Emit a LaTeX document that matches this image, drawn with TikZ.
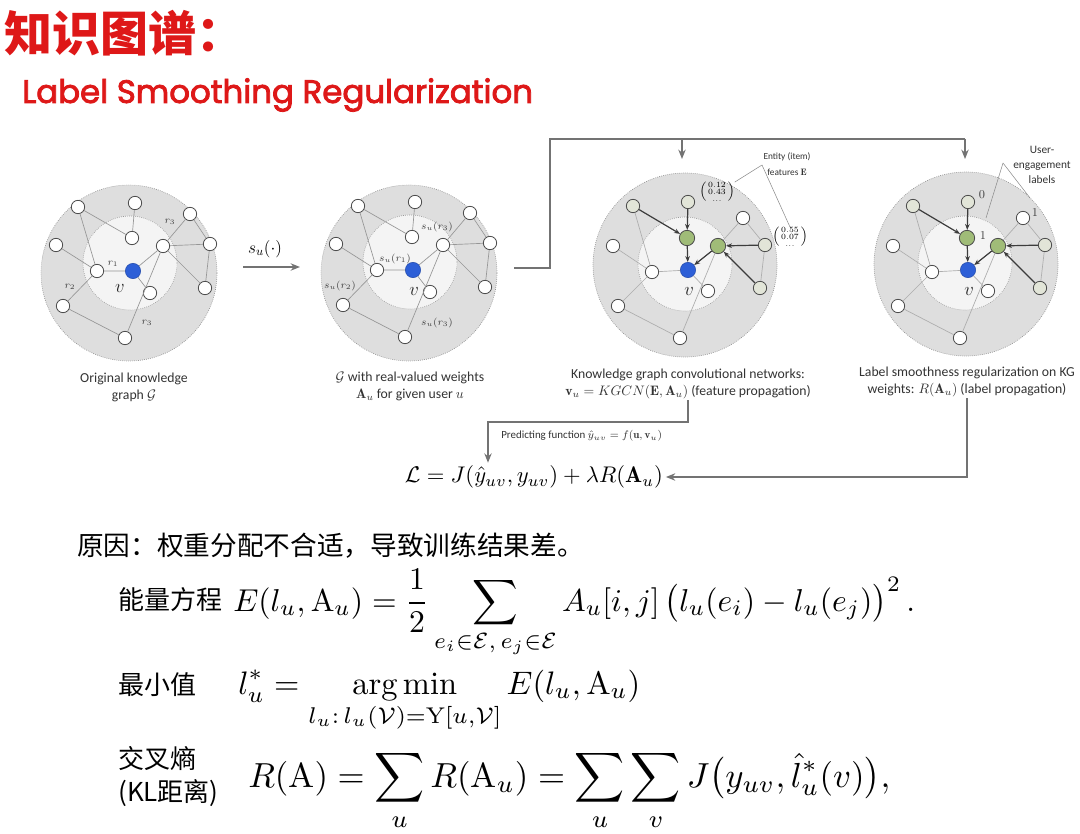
\RequirePackage{fix-cm}
\documentclass[tikz,border=0pt]{standalone}
\usepackage{amsmath,amssymb}
\usepackage{graphicx}
\usepackage{fontspec}
\newfontfamily\cjk{Noto Sans CJK SC}
\newfontfamily\capfont{Carlito}
\newfontfamily\headfont{Poppins}
\newcommand\heavytext[1]{\special{pdf:literal direct 2 Tr 0.25 w}#1\special{pdf:literal direct 0 Tr}}
\usetikzlibrary{arrows.meta}
\definecolor{titred}{RGB}{222,24,24}
\definecolor{outerg}{RGB}{222,222,222}
\definecolor{innerg}{RGB}{244,244,244}
\definecolor{edgeg}{RGB}{150,150,150}
\definecolor{darke}{RGB}{60,60,60}
\definecolor{vblue}{RGB}{45,95,215}
\definecolor{gnode}{RGB}{160,188,120}
\definecolor{lgnode}{RGB}{226,229,216}
\definecolor{conng}{RGB}{115,115,115}
\newcommand\kgplain{%
 \node[wn] (n1) at (-55,-64) {};
 \node[wn] (n2) at (2,-68) {};
 \node[wn] (n3) at (57,-57) {};
 \node[wn] (n4) at (-77,-26) {};
 \node[wn] (n5) at (-1,-33) {};
 \node[wn] (n6) at (30,-25) {};
 \node[wn] (n7) at (77,-27) {};
 \node[wn] (n8) at (-36,0) {};
 \node[bn] (v) at (0,0) {};
 \node[wn] (n9) at (17,22) {};
 \node[wn] (n10) at (72,17) {};
 \node[wn] (n11) at (-70,35) {};
 \node[wn] (n12) at (-8,67) {};
 \draw[ed] (n1)--(n5) (n1)--(n8) (n2)--(n5) (n3)--(n6) (n3)--(n7) (n6)--(n7)
   (n7)--(n10) (n6)--(n10) (n4)--(n8) (n8)--(v) (v)--(n6) (v)--(n9)
   (n6)--(n12) (n8)--(n11) (n11)--(n12);
}
\newcommand\kggcn{%
 \node[lgn] (n1) at (-55,-64) {};
 \node[lgn] (n2) at (0,-68) {};
 \node[wn] (n3) at (55,-52) {};
 \node[wn] (n4) at (-75,-24) {};
 \node[gn] (n5) at (-1,-32) {};
 \node[gn] (n6) at (30,-24) {};
 \node[lgn] (n7) at (77,-25) {};
 \node[wn] (n8) at (-36,2) {};
 \node[bn] (v) at (0,0) {};
 \node[wn] (n9) at (20,21) {};
 \node[lgn] (n10) at (72,18) {};
 \node[wn] (n11) at (-70,36) {};
 \node[wn] (n12) at (-8,68) {};
 \draw[led] (n1)--(n8) (n3)--(n6) (n3)--(n7) (n7)--(n10) (n4)--(n8) (n8)--(v)
   (v)--(n9) (n6)--(n12) (n8)--(n11) (n11)--(n12);
 \draw[dar] (n1)--(n5);
 \draw[dar] (n2)--(n5);
 \draw[dar] (n5)--(v);
 \draw[dar] (n6)--(v);
 \draw[dar] (n7)--(n6);
 \draw[dar] (n10)--(n6);
}
\begin{document}
\begin{tikzpicture}[x=0.75pt,y=-0.75pt,
 outerc/.style={circle, fill=outerg, draw=black!45, densely dotted, line width=0.5pt, inner sep=0},
 innerc/.style={circle, fill=innerg, draw=black!40, densely dotted, line width=0.5pt, inner sep=0},
 wn/.style={circle, draw=black!70, fill=white, line width=0.6pt, minimum size=10pt, inner sep=0},
 lgn/.style={wn, fill=lgnode},
 gn/.style={circle, draw=black!70, fill=gnode, line width=0.6pt, minimum size=11.5pt, inner sep=0},
 bn/.style={circle, draw=vblue!80!black, fill=vblue, line width=0.4pt, minimum size=11.5pt, inner sep=0},
 ed/.style={draw=edgeg, line width=0.5pt},
 led/.style={draw=black!32, line width=0.5pt},
 dar/.style={draw=darke, line width=0.9pt, -{Stealth[length=4.5pt,width=3.5pt]}},
 conn/.style={draw=conng, line width=1.3pt},
 arr/.style={-{Stealth[length=7pt,width=5.5pt]}},
 captxt/.style={font=\capfont\fontsize{10.3}{12.75}\selectfont, align=center, text=black!80, inner sep=1pt},
 elab/.style={font=\fontsize{7.5}{9}\selectfont, inner sep=0, text=black!75},
 vlab/.style={font=\fontsize{14}{16}\selectfont, inner sep=0, text=black!85},
 anno/.style={font=\capfont\fontsize{7}{12.5}\selectfont, align=center, inner sep=0, text=black!80},
 lead/.style={draw=black!45, line width=0.4pt},
 cjkl/.style={anchor=west, inner sep=0, font=\cjk\fontsize{19.5}{24.75}\selectfont, align=left}
]
\useasboundingbox (0,0) rectangle (1080,834);
\fill[white] (0,0) rectangle (1080,834);

% titles
\node[anchor=west, inner sep=0, text=titred, font=\cjk\bfseries\fontsize{36}{40}\selectfont] (title) at (4,33) {知识图谱：};
\node[anchor=west, inner sep=0, text=titred] (subtitle) at (22,95) {\resizebox{383pt}{!}{\headfont\heavytext{Label Smoothing Regularization}}};

% graph 1
\begin{scope}[shift={(133,271)}, name prefix=g1-]
 \node[outerc, minimum size=132pt] (oc) at (-4,2) {};
 \node[innerc, minimum size=70.5pt] (ic) at (-3,-8) {};
 \kgplain
 \node[elab] (la) at (37,-49) {$r_3$};
 \node[elab] (lb) at (-20,-7) {$r_1$};
 \node[elab] (lc) at (-63,16) {$r_2$};
 \node[elab] (ld) at (14,52) {$r_3$};
 \node[vlab] (lv) at (-13,17) {$v$};
\end{scope}

% graph 2
\begin{scope}[shift={(413,270)}, name prefix=g2-]
 \node[outerc, minimum size=132pt] (oc) at (-4,3) {};
 \node[innerc, minimum size=70.5pt] (ic) at (-3,-8) {};
 \kgplain
 \node[elab] (la) at (24,-43) {$s_u(r_3)$};
 \node[elab] (lb) at (-18,-11) {$s_u(r_1)$};
 \node[elab] (lc) at (-73,16) {$s_u(r_2)$};
 \node[elab] (ld) at (24,53) {$s_u(r_3)$};
 \node[vlab] (lv) at (1,21) {$v$};
\end{scope}

% graph 3
\begin{scope}[shift={(688,270)}, name prefix=g3-]
 \node[outerc, minimum size=138pt] (oc) at (-3,-5) {};
 \node[innerc, minimum size=70.5pt] (ic) at (-3,-6) {};
 \kggcn
 \node[vlab] (lv) at (1,21) {$v$};
 \node[inner sep=0, font=\fontsize{8}{9}\selectfont] (e1) at (29,-78) {$\left(\begin{smallmatrix}0.12\\0.43\\\ldots\end{smallmatrix}\right)$};
 \node[inner sep=0, font=\fontsize{8}{9}\selectfont] (e2) at (102,-33) {$\left(\begin{smallmatrix}0.55\\0.07\\\ldots\end{smallmatrix}\right)$};
 \node[anno] (ent) at (99,-106) {Entity (item)\\features $\mathbf{E}$};
 \coordinate (ap) at (74,-105);
 \draw[lead] (ap) -- (e1.north east);
 \draw[lead] (ap) -- (e2.north);
\end{scope}

% graph 4
\begin{scope}[shift={(968,270)}, name prefix=g4-]
 \node[outerc, minimum size=138pt] (oc) at (-2,-6) {};
 \node[innerc, minimum size=70.5pt] (ic) at (-3,-7) {};
 \kggcn
 \node[vlab] (lv) at (1,21) {$v$};
 \node[elab, font=\fontsize{9}{10}\selectfont] (l0) at (14,-75) {$0$};
 \node[elab, font=\fontsize{9}{10}\selectfont] (l1) at (15,-34) {$1$};
 \node[elab, font=\fontsize{9}{10}\selectfont] (l2) at (67,-57) {$1$};
 \node[anno, font=\capfont\fontsize{8.5}{11.25}\selectfont] (uel) at (74,-105) {User-\\engagement\\labels};
 \coordinate (ap) at (35,-107);
 \draw[lead] (ap) -- (18,-52);
 \draw[lead] (ap) -- (62,-72);
\end{scope}

% captions
\node[captxt] (cap1) at (134,387) {Original knowledge\\graph $\mathcal{G}$};
\node[captxt] (cap2) at (410,386.5) {$\mathcal{G}$ with real-valued weights\\$\mathbf{A}_u$ for given user $u$};
\node[captxt] (cap3) at (688,383.5) {Knowledge graph convolutional networks:\\$\mathbf{v}_u = KGCN(\mathbf{E},\mathbf{A}_u)$ (feature propagation)};
\node[captxt] (cap4) at (967,381.5) {Label smoothness regularization on KG\\weights: $R(\mathbf{A}_u)$ (label propagation)};

% arrow s_u
\coordinate (sa) at (243,267);
\coordinate (sb) at (300,267);
\draw[conn, arr] (sa) -- (sb);
\node[inner sep=0, font=\fontsize{13}{15}\selectfont] (sul) at (265,249) {$s_u(\cdot)$};

% top connector
\coordinate (j0) at (514,268);
\coordinate (j1) at (550,139);
\coordinate (j2) at (965,139);
\coordinate (j3) at (682,139);
\coordinate (d3) at (682,159);
\coordinate (d4) at (965,159);
\draw[conn] (j0) -| (j1) -- (j2);
\draw[conn, arr] (j2) -- (d4);
\draw[conn, arr] (j3) -- (d3);

% loss
\node[anchor=west, inner sep=2pt] (loss) at (402,477) {\resizebox{193.5pt}{!}{$\mathcal{L}=J(\hat{y}_{uv},y_{uv})+\lambda R(\mathbf{A}_u)$}};
\node[anchor=west, inner sep=0, font=\capfont\fontsize{8.2}{10}\selectfont, text=black!80] (pred) at (501,436) {Predicting function $\hat{y}_{uv}=f(\mathbf{u},\mathbf{v}_u)$};
\coordinate (b1) at (688,422);
\coordinate (b2) at (488,422);
\draw[conn, arr] (cap3.south) -- (b1) -- (b2) -- (b2 |- loss.north);
\draw[conn, arr] (cap4.south) |- (loss.east);

% bottom text
\node[anchor=west, inner sep=0, font=\cjk\fontsize{20}{24}\selectfont] (why) at (77,546) {原因：权重分配不合适，导致训练结果差。};
\node[cjkl] (le) at (118,600) {能量方程};
\node[cjkl] (lm) at (118,685) {最小值};
\node[cjkl] (lr) at (118,776.5) {交叉熵\\(KL距离)};

\node[anchor=base west, inner sep=0] (eqe) at (233,611) {\resizebox{511.5pt}{!}{$\displaystyle E(l_u,\mathrm{A}_u)=\frac{1}{2}\sum_{e_i\in\mathcal{E},\,e_j\in\mathcal{E}} A_u[i,j]\,\bigl(l_u(e_i)-l_u(e_j)\bigr)^2\,.$}};
\node[anchor=base west, inner sep=0] (eqm) at (238,694) {\resizebox{301.5pt}{!}{$\displaystyle l_u^{*} = \operatorname*{arg\,min}_{l_u:\,l_u(\mathcal{V})=\mathrm{Y}[u,\mathcal{V}]} E(l_u,\mathrm{A}_u)$}};
\node[anchor=base west, inner sep=0] (eqr) at (248,787) {\resizebox{481.5pt}{!}{$\displaystyle R(\mathrm{A})=\sum_{u}R(\mathrm{A}_u)=\sum_{u}\sum_{v}J\bigl(y_{uv},\hat{l}_u^{*}(v)\bigr),$}};
\end{tikzpicture}
\end{document}
